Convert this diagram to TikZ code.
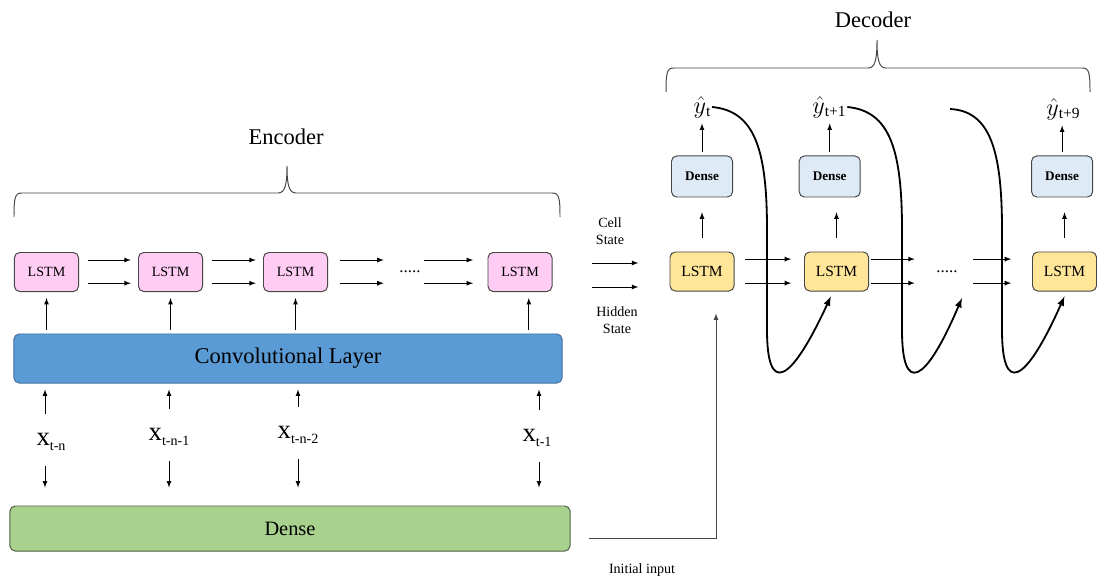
\documentclass[tikz,border=0pt]{standalone}
\usepackage{fontspec}
\setmainfont{Liberation Serif}
\usetikzlibrary{positioning,arrows}

\definecolor{rosa}{RGB}{255,205,244}
\definecolor{blu}{RGB}{91,155,213}
\definecolor{bordoblu}{RGB}{65,113,160}
\definecolor{verde}{RGB}{169,209,142}
\definecolor{bordoverde}{RGB}{80,96,70}
\definecolor{giallo}{RGB}{255,230,153}
\definecolor{azzurro}{RGB}{222,235,247}
\definecolor{bordo}{RGB}{70,70,70}

\newcommand{\xl}[1]{{\fontsize{19}{20}\selectfont x}\raisebox{-0.13cm}{\fontsize{10}{11}\selectfont #1}}
\newcommand{\yh}[1]{{\fontsize{18}{19}\selectfont$\hat{y}$}\raisebox{-0.08cm}{\fontsize{11}{12}\selectfont #1}}

\tikzset{
  scatola/.style={draw=bordo, line width=0.7pt, rounded corners=0.13cm, inner sep=0pt, align=center},
  elstm/.style={scatola, fill=rosa, minimum width=1.6cm, minimum height=0.975cm, font=\fontsize{10}{12}\selectfont},
  dlstm/.style={scatola, fill=giallo, minimum width=1.6cm, minimum height=0.975cm, font=\fontsize{11}{13}\selectfont},
  ddensa/.style={scatola, fill=azzurro, minimum width=1.525cm, minimum height=1.025cm, font=\bfseries\fontsize{9.4}{11}\selectfont},
  conv/.style={scatola, draw=bordoblu, fill=blu, minimum width=13.7cm, minimum height=1.225cm, font=\fontsize{16}{18}\selectfont},
  densa/.style={scatola, draw=bordoverde, fill=verde, minimum width=14cm, minimum height=1.125cm, font=\fontsize{14.5}{16}\selectfont},
  titolo/.style={font=\fontsize{16}{18}\selectfont},
  piccolo/.style={align=center, inner sep=0pt, font=\fontsize{10}{12}\selectfont},
  xlab/.style={inner sep=0pt, minimum height=1.2cm},
  ylab/.style={inner sep=1pt},
  puntini/.style={inner sep=0pt, minimum width=0.7cm, font=\fontsize{12}{12}\selectfont},
  freccia/.style={-latex, line width=0.6pt},
  curva/.style={-latex, line width=1.3pt},
  graffa/.style={line width=0.7pt, draw=bordo},
}

\begin{document}
\begin{tikzpicture}[x=0.025cm, y=-0.025cm]
    \useasboundingbox (0,0) rectangle (1097,578);

    %encoder
    \node[titolo] (enc) at (286,137) {Encoder};
    \draw[graffa] (14,217) .. controls (14,197) and (15,193) .. (22,193) -- (278,193)
        .. controls (285,193) and (287,185) .. (287,166) .. controls (287,185) and (289,193) .. (296,193)
        -- (552,193) .. controls (559,193) and (560,197) .. (560,217);

    \node[elstm] (e1) at (46.5,272) {LSTM};
    \node[elstm] (e2) at (170.5,272) {LSTM};
    \node[elstm] (e3) at (295.5,272) {LSTM};
    \node[puntini] (edots) at (410,272) {.....};
    \node[elstm] (e4) at (520,272) {LSTM};

    %frecce tra le celle
    \foreach \a/\b in {e1/e2, e2/e3}{
        \draw[freccia, shorten <=0.22cm, shorten >=0.18cm] ([yshift=0.3cm]\a.east) -- ([yshift=0.3cm]\b.west);
        \draw[freccia, shorten <=0.22cm, shorten >=0.18cm] ([yshift=-0.28cm]\a.east) -- ([yshift=-0.28cm]\b.west);
    }
    \draw[freccia, shorten <=0.3cm, shorten >=0.3cm] ([yshift=0.3cm]e3.east) -- ([yshift=0.3cm]edots.west);
    \draw[freccia, shorten <=0.3cm, shorten >=0.3cm] ([yshift=-0.28cm]e3.east) -- ([yshift=-0.28cm]edots.west);
    \draw[freccia, shorten >=0.36cm] ([yshift=0.3cm]edots.east) -- ([yshift=0.3cm]e4.west);
    \draw[freccia, shorten >=0.36cm] ([yshift=-0.28cm]edots.east) -- ([yshift=-0.28cm]e4.west);

    %strato convoluzionale e dense
    \node[conv] (conv) at (288,358.5) {Convolutional Layer};
    \node[densa] (dense) at (290,528.5) {Dense};
    \foreach \c in {e1,e2,e3}
        \draw[freccia, shorten <=0.1cm, shorten >=0.15cm] (conv.north -| \c.south) -- (\c.south);
    \draw[freccia, shorten <=0.1cm, shorten >=0.15cm] ([xshift=0.22cm]e4.south |- conv.north) -- ([xshift=0.22cm]e4.south);

    %ingressi
    \node[xlab] (x1) at (51,442) {\xl{t-n}};
    \node[xlab] (x2) at (169,437) {\xl{t-n-1}};
    \node[xlab] (x3) at (298,435) {\xl{t-n-2}};
    \node[xlab] (x4) at (537,438) {\xl{t-1}};
    \foreach \x/\s in {x1/-0.15cm, x2/0cm, x3/0cm, x4/0.05cm}{
        \draw[freccia, shorten <=0.1cm, shorten >=0.15cm] ([xshift=\s]\x.north) -- ([xshift=\s]\x.north |- conv.south);
        \draw[freccia, shorten >=0.45cm] ([xshift=\s]\x.south) -- ([xshift=\s]\x.south |- dense.north);
    }

    %decoder
    \node[titolo] (dec) at (873,20) {Decoder};
    \draw[graffa] (666,92) .. controls (666,72) and (667,68) .. (674,68) -- (868,68)
        .. controls (875,68) and (877,60) .. (877,40) .. controls (877,60) and (879,68) .. (886,68)
        -- (1082,68) .. controls (1089,68) and (1090,72) .. (1090,92);

    \node[dlstm] (d1) at (702,271.5) {LSTM};
    \node[dlstm] (d2) at (836.5,271.5) {LSTM};
    \node[puntini] (ddots) at (947,271.5) {.....};
    \node[dlstm] (d3) at (1064.5,271.5) {LSTM};

    \node[ddensa, above=1.35cm of d1] (dd1) {Dense};
    \node[ddensa, above=1.35cm of d2, xshift=-0.17cm] (dd2) {Dense};
    \node[ddensa, above=1.35cm of d3, xshift=-0.06cm] (dd3) {Dense};

    \node[ylab] (y1) at (702,107) {\yh{t}};
    \node[ylab] (y2) at (829,107) {\yh{t+1}};
    \node[ylab] (y3) at (1063,109) {\yh{t+9}};

    \foreach \d/\u/\y in {d1/dd1/y1, d2/dd2/y2, d3/dd3/y3}{
        \draw[freccia, shorten <=0.35cm, shorten >=0.37cm] (\d.north) -- (\d.north |- \u.south);
        \draw[freccia, shorten <=0.08cm, shorten >=0.1cm] (\u.north) -- (\u.north |- \y.south);
    }

    %stati
    \node[piccolo] (cell) at (610,231) {Cell\\State};
    \node[piccolo] (hidden) at (617,320) {Hidden\\State};
    \coordinate (cs) at (592,263);
    \coordinate (hs) at (592,287);
    \draw[freccia, shorten >=0.78cm] (cs) -- (cs -| d1.west);
    \draw[freccia, shorten >=0.78cm] (hs) -- (hs -| d1.west);

    %frecce tra le celle del decoder
    \draw[freccia, shorten <=0.27cm, shorten >=0.32cm] ([yshift=0.31cm]d1.east) -- ([yshift=0.31cm]d2.west);
    \draw[freccia, shorten <=0.27cm, shorten >=0.32cm] ([yshift=-0.29cm]d1.east) -- ([yshift=-0.29cm]d2.west);
    \draw[freccia, shorten <=0.05cm, shorten >=0.45cm] ([yshift=0.31cm]d2.east) -- ([yshift=0.31cm]ddots.west);
    \draw[freccia, shorten <=0.05cm, shorten >=0.45cm] ([yshift=-0.29cm]d2.east) -- ([yshift=-0.29cm]ddots.west);
    \draw[freccia, shorten <=0.3cm, shorten >=0.52cm] ([yshift=0.31cm]ddots.east) -- ([yshift=0.31cm]d3.west);
    \draw[freccia, shorten <=0.3cm, shorten >=0.52cm] ([yshift=-0.29cm]ddots.east) -- ([yshift=-0.29cm]d3.west);

    %ingresso iniziale
    \node[piccolo] (init) at (642,570) {Initial input};
    \draw[freccia, draw=bordo, shorten <=0.45cm, shorten >=0.55cm] ([yshift=-0.24cm]dense.east) -| ([xshift=0.35cm]d1.south);

    %retroazione delle uscite
    \coordinate (c2end) at (962,298);
    \coordinate (c3start) at (950,109);
    \draw[curva] (y1.east) .. controls (755,111) and (767,150) .. (767,230) -- (767,330)
        .. controls (767,395) and (790,385) .. ([xshift=-0.14cm,yshift=-0.12cm]d2.south);
    \draw[curva] (y2.east) .. controls (890,111) and (902,150) .. (902,230) -- (902,330)
        .. controls (902,395) and (925,385) .. (c2end);
    \draw[curva] (c3start) .. controls (990,111) and (1002,150) .. (1002,230) -- (1002,330)
        .. controls (1002,395) and (1025,385) .. ([yshift=-0.12cm]d3.south);

\end{tikzpicture}
\end{document}
